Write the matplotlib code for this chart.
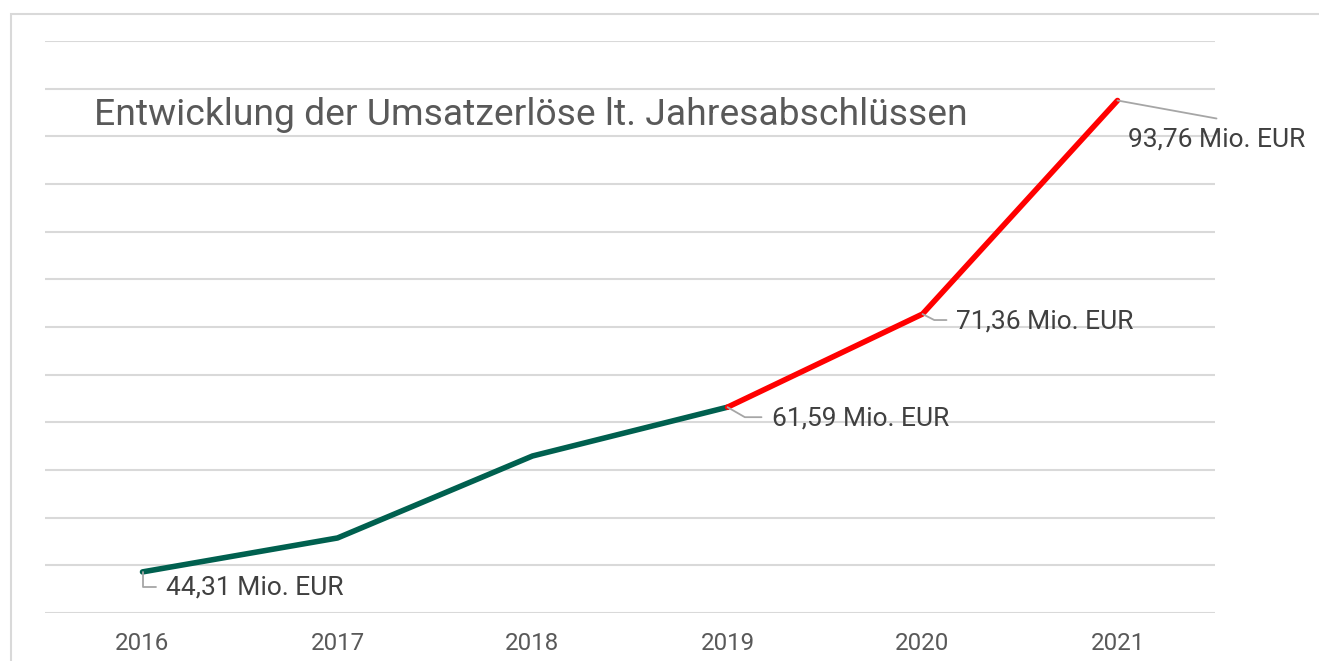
"""Umsatzerlöse line chart."""

import matplotlib.pyplot as plt
from matplotlib.patches import Rectangle

years = ["2016", "2017", "2018", "2019", "2020", "2021"]
revenue = [44.31, 47.87, 56.47, 61.59, 71.36, 93.76]
label_years = [0, 3, 4, 5]
label_texts = ["44,31 Mio. EUR", "61,59 Mio. EUR", "71,36 Mio. EUR", "93,76 Mio. EUR"]
title = "Entwicklung der Umsatzerlöse lt. Jahresabschlüssen"

plt.rcParams["font.family"] = ["Roboto", "DejaVu Sans"]

fig = plt.figure(figsize=(13.19, 6.61), dpi=100)
ax = fig.add_axes([45 / 1319, 48 / 661, 1170 / 1319, 572 / 661])

# outer frame (cut off at right / bottom)
fig.patches.append(Rectangle((10.5 / 1319, -0.1), 1.2, (661 - 13.5) / 661 + 0.1,
                             transform=fig.transFigure, fill=False,
                             edgecolor="#d9d9d9", lw=1.5))

x = list(range(len(years)))
ax.plot(x[:4], revenue[:4], color="#00604f", lw=4, solid_capstyle="round", zorder=3)
ax.plot(x[3:], revenue[3:], color="#ff0000", lw=4, solid_capstyle="round", zorder=3)

ax.set_xlim(-0.5, len(years) - 0.5)
ax.set_ylim(40, 100)
ax.set_yticks(range(40, 101, 5))
ax.set_yticklabels([])
ax.set_xticks(x)
ax.set_xticklabels(years, fontsize=17.4, color="#595959")
ax.tick_params(length=0, pad=13.5)
ax.yaxis.grid(True, color="#d9d9d9", lw=1.5)
ax.set_axisbelow(True)
for s in ax.spines.values():
    s.set_visible(False)

# leader lines and labels
leader_ends = [(13, -15), (34, -10), (24, -6), (99, -18)]
leader_styles = ["angle,angleA=0,angleB=90", "angle,angleA=0,angleB=-30",
                 "angle,angleA=0,angleB=-27", "arc3"]
text_offsets = [(23, -16), (44, -11), (34, -7), (10, -39)]
for i, txt, end, style, off in zip(label_years, label_texts, leader_ends,
                                   leader_styles, text_offsets):
    ax.annotate("", xy=(i, revenue[i]), xytext=end, textcoords="offset pixels",
                arrowprops=dict(arrowstyle="-", connectionstyle=style,
                                color="#a6a6a6", lw=1.3, shrinkA=0, shrinkB=0))
    ax.annotate(txt, xy=(i, revenue[i]), xytext=off, textcoords="offset pixels",
                ha="left", va="center", fontsize=19, color="#404040")

ax.text(94 / 1319, (661 - 115) / 661, title, transform=fig.transFigure,
        ha="left", va="center", fontsize=26.8, color="#595959")

fig.savefig("out.png", dpi=100)
